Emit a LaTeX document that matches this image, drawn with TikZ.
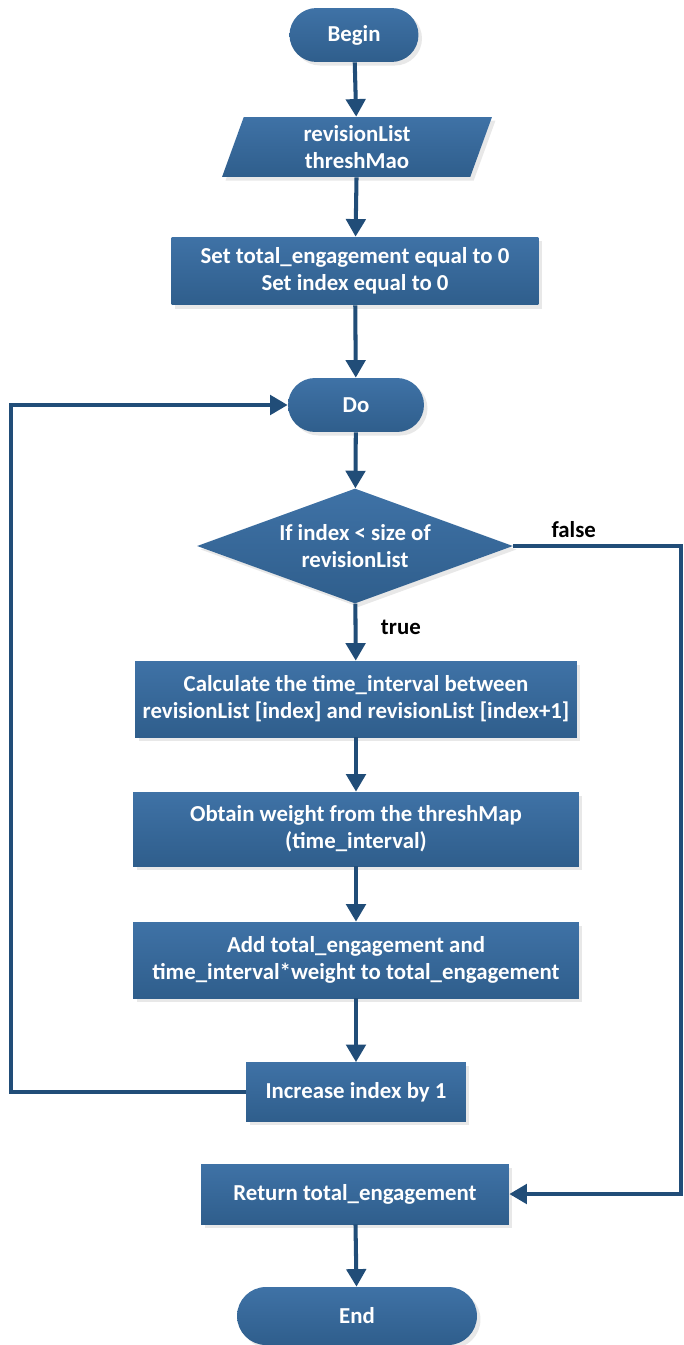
\documentclass[tikz,border=0pt]{standalone}
\usepackage{fontspec}
\setmainfont{Carlito}
\usepackage{xcolor}
\definecolor{boxtop}{HTML}{3F72A6}
\definecolor{boxbot}{HTML}{2F5E8C}
\definecolor{wire}{HTML}{214D78}
\usetikzlibrary{shapes.geometric}
\usetikzlibrary{shapes.misc}
\usetikzlibrary{arrows.meta}
\usetikzlibrary{shadows}
\tikzset{
  every node/.style={
    font=\bfseries\fontsize{13}{15.5}\selectfont
  },
  block/.style={
    draw=none, top color=boxtop, bottom color=boxbot, text=white,
    align=center, inner sep=0pt,
    drop shadow={opacity=.18, shadow xshift=2pt, shadow yshift=-2pt}
  },
  flow/.style={
    wire, line width=2.3pt, -{Triangle[length=10pt,width=11pt]}
  }
}

\begin{document}
\begin{tikzpicture}[x=0.02cm,y=-0.02cm]
    %\draw[gray, very thin] (0,0) grid[step=50] (683,1345);
    \useasboundingbox (0,0) rectangle (683,1345);

    \node[block, rounded rectangle, minimum width=2.58cm, minimum height=1.08cm] (begin) at (354,35) {Begin};
    \node[block, trapezium, trapezium left angle=63.4, trapezium right angle=116.6,
          trapezium stretches body, minimum width=5.4cm, minimum height=1.2cm] (input) at (357,147) {revisionList\\threshMao};
    \node[block, minimum width=7.34cm, minimum height=1.36cm] (init) at (355,271) {Set total\_engagement equal to 0\\Set index equal to 0};
    \node[block, rounded rectangle, minimum width=2.72cm, minimum height=1.08cm] (do) at (356,405) {Do};
    \node[block, diamond, aspect=2.75, minimum width=6.32cm, minimum height=2.3cm] (cond) at (355,546) {If index < size of\\revisionList};
    \node[block, minimum width=8.84cm, minimum height=1.52cm] (calc) at (356,699) {Calculate the time\_interval between\\revisionList [index] and revisionList [index+1]};
    \node[block, minimum width=8.92cm, minimum height=1.48cm] (weight) at (356,829) {Obtain weight from the threshMap\\(time\_interval)};
    \node[block, minimum width=8.92cm, minimum height=1.52cm] (add) at (356,960) {Add total\_engagement and\\time\_interval*weight to total\_engagement};
    \node[block, minimum width=4.4cm, minimum height=1.18cm] (incr) at (356,1092) {Increase index by 1};
    \node[block, minimum width=6.16cm, minimum height=1.2cm] (ret) at (355,1194) {Return total\_engagement};
    \node[block, rounded rectangle, minimum width=4.8cm, minimum height=1.16cm] (stop) at (357,1316) {End};

    \coordinate (loopa) at (11,1092);
    \coordinate (loopb) at (11,405);
    \coordinate (exita) at (681,546);
    \coordinate (exitb) at (681,1194);

    \draw [flow] (begin) -- (input);
    \draw [flow] (input) -- (init);
    \draw [flow] (init) -- (do);
    \draw [flow] (do) -- (cond);
    \draw [flow] (cond) -- (calc) node [black, pos=.42, right=10pt] {true};
    \draw [flow] (calc) -- (weight);
    \draw [flow] (weight) -- (add);
    \draw [flow] (add) -- (incr);
    \draw [flow] (incr.west) -- (loopa) -- (loopb) -- (do.west);
    \draw [flow] (cond.east) -- (exita) node [black, pos=.36, above=0pt] {false} -- (exitb) -- (ret.east);
    \draw [flow] (ret) -- (stop);
\end{tikzpicture}
\end{document}
